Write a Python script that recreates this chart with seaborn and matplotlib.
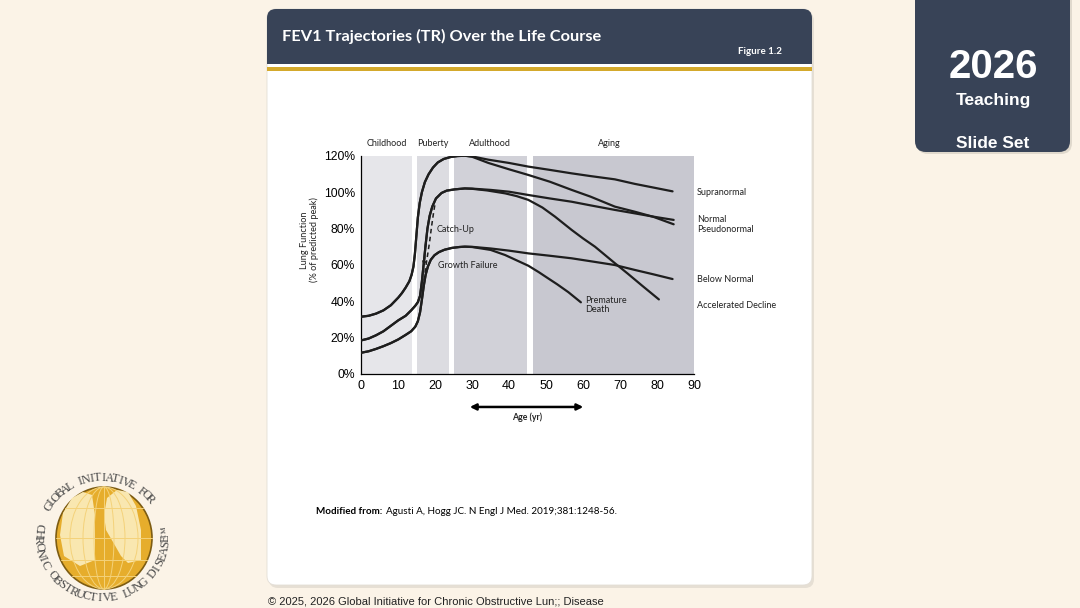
import numpy as np
import pandas as pd
import matplotlib
matplotlib.use("Agg")
import matplotlib.pyplot as plt
import seaborn as sns
from matplotlib.patches import FancyBboxPatch, Rectangle, Ellipse, Polygon

# ---- data ----
phase_names = ["Childhood", "Puberty", "Adulthood", "Aging"]
phase_start = [0, 15.2, 25.0, 46.4]
phase_end = [13.8, 23.7, 44.8, 90]
phase_colors = ["#e6e6ea", "#dcdce1", "#d1d1d8", "#c8c8d0"]

# growth phase (shared by the two trajectories leaving each peak)
top_growth_age = [0, 2, 4, 6, 8, 10, 11, 12, 13, 13.6, 14.1, 14.5, 14.9, 15.3, 15.8, 16.4,
                  17.2, 18.2, 19.4, 20.7, 22.3, 24.2, 26, 28]
top_growth_val = [31.5, 32, 33.2, 35, 37.8, 42, 44.5, 47.5, 51, 54.5, 59, 66, 76, 86, 94, 100,
                  105.5, 109.8, 113.5, 116.3, 118.2, 119.3, 119.8, 120]

mid_growth_age = [0, 2, 4, 6, 8, 10, 12, 13.5, 14.6, 15.3, 15.9, 16.4, 16.9, 17.4, 17.9, 18.5,
                  19.2, 20.2, 21.7, 23.1, 25.3, 28]
mid_growth_val = [18.5, 19.5, 21.3, 23.5, 26.5, 29.5, 32, 35, 37.5, 39.5, 43, 51, 61, 71, 80,
                  87, 92, 96.5, 99.5, 100.8, 101.5, 102]

low_growth_age = [0, 2, 4, 6, 8, 10, 12, 13.5, 14.6, 15.3, 15.9, 16.4, 16.9, 17.4, 18.0, 18.8,
                  19.8, 21, 22.5, 24.5, 26.5, 28]
low_growth_val = [11.7, 12.5, 13.8, 15.3, 17, 19, 21.5, 23.5, 26, 29, 34, 41, 48.5, 54.5, 59,
                  62.8, 65.3, 67, 68.3, 69.3, 69.8, 70]

# decline phase
supra_age = [30, 34.4, 40, 45.2, 51, 56.9, 62, 68.6, 74, 79, 84.2]
supra_val = [119.6, 117.8, 116, 114, 112.2, 110.3, 108.8, 107, 104.5, 102.5, 100.4]

pseudo_age = [30, 34.4, 40, 45.2, 51, 56.9, 62, 68.6, 74, 79, 84.5]
pseudo_val = [119.4, 116, 112.5, 109.4, 105.7, 101.2, 97.5, 92, 89.2, 86.4, 82.3]

normal_age = [30, 35, 40, 45.2, 51, 56.9, 62, 68.6, 74, 79, 84.5]
normal_val = [101.9, 101.2, 100.2, 98.4, 96.5, 94.7, 92.7, 90.2, 88.3, 86.5, 84.7]

accel_age = [30, 34, 38.9, 42, 45.2, 49, 52.4, 56.9, 60, 63.2, 68.6, 72, 76, 80.5]
accel_val = [101.8, 100.9, 99.3, 97.8, 95.7, 91.5, 86.5, 79.2, 74.5, 70, 60.9, 55.3, 48.5, 41]

below_age = [30, 35, 40, 45.2, 51, 56.9, 62, 68.6, 74, 79, 84.2]
below_val = [69.9, 69, 67.8, 66.3, 65, 63.6, 62, 59.9, 57.2, 54.8, 52.2]

death_age = [30, 35, 38.9, 42, 45.2, 48, 50.6, 53, 56, 59.4]
death_val = [69.8, 68.2, 65.4, 62.5, 59.5, 56, 52.5, 49.3, 45, 39.4]

catch_up_age = [16.7, 17.3, 17.9, 18.5, 19.0, 19.5, 19.9]
catch_up_val = [47, 57, 65, 73, 81, 88, 93]
growth_fail_age = [17.45, 17.25, 17.05]
growth_fail_val = [72, 67, 62]

right_labels = ["Supranormal", "Normal", "Pseudonormal", "Below Normal", "Accelerated Decline"]
right_label_val = [100, 85, 79.7, 51.7, 37.4]

age_ticks = [0, 10, 20, 30, 40, 50, 60, 70, 80, 90]
pct_ticks = [0, 20, 40, 60, 80, 100, 120]

sns.set_theme(style="white")
plt.rcParams['font.family'] = ['Lato', 'DejaVu Sans']

navy = "#384357"
ink = "#1e1e1e"

fig = plt.figure(figsize=(10.8, 6.08), dpi=100)
fig.patch.set_facecolor("#fbf3e7")

# ---- slide decoration in pixel coordinates ----
bg = fig.add_axes([0, 0, 1, 1], zorder=0)
bg.set_xlim(0, 1080)
bg.set_ylim(608, 0)
bg.axis("off")

bg.add_patch(FancyBboxPatch((269, 12), 545, 576, boxstyle="round,pad=0,rounding_size=9",
                            fc="#d8d2c8", ec="none", alpha=0.6))
bg.add_patch(FancyBboxPatch((267, 9), 545, 576, boxstyle="round,pad=0,rounding_size=9",
                            fc="white", ec="#e3ded6", lw=0.6))
bg.add_patch(FancyBboxPatch((267, 9), 545, 40, boxstyle="round,pad=0,rounding_size=9",
                            fc=navy, ec="none"))
bg.add_patch(Rectangle((267, 30), 545, 34, fc=navy, ec="none"))
bg.add_patch(Rectangle((267, 67), 545, 4, fc="#d4a92c", ec="none"))
bg.text(282, 36, "FEV1 Trajectories (TR) Over the Life Course", color="white",
        fontsize=11.8, fontweight="bold", va="center")
bg.text(782, 51, "Figure 1.2", color="white", fontsize=7, fontweight="bold",
        ha="right", va="center")

# teaching panel
bg.add_patch(FancyBboxPatch((917, -20), 155, 174, boxstyle="round,pad=0,rounding_size=11",
                            fc="#cfc8bc", ec="none", alpha=0.6))
bg.add_patch(FancyBboxPatch((915, -20), 155, 172, boxstyle="round,pad=0,rounding_size=11",
                            fc=navy, ec="none"))
bg.text(993, 67, "2026", color="white", fontsize=29, fontweight="bold",
        family="Liberation Sans", ha="center", va="center")
bg.text(993, 101, "Teaching", color="white", fontsize=12.5, fontweight="bold",
        family="Liberation Sans", ha="center", va="center")
bg.text(993, 144, "Slide Set", color="white", fontsize=12.5, fontweight="bold",
        family="Liberation Sans", ha="center", va="center")

# source and copyright
src = bg.text(316, 511, "Modified from:", fontsize=7.1, fontweight="bold", color="black",
              va="center")
bg.annotate("Agusti A, Hogg JC. N Engl J Med. 2019;381:1248-56.", xy=(1, 0.5),
            xycoords=src, xytext=(2.5, 0), textcoords="offset points", fontsize=7.1,
            color="black", va="center")
bg.text(268, 602, "\u00a9 2025, 2026 Global Initiative for Chronic Obstructive Lun;; Disease",
        fontsize=8.0, family="Liberation Sans", color="#222222", va="center")

# GOLD logo
cx, cy = 104, 538
bg.add_patch(Ellipse((cx, cy), 96, 102, fc="#e6ad2c", ec="#7d5c12", lw=1.2, zorder=1))
bg.add_patch(Polygon([(64, 556), (60, 535), (63, 513), (72, 498), (83, 492), (92, 495),
                      (95, 515), (95, 560), (80, 566)], closed=True, fc="#f9e7b0", ec="none",
                     zorder=2))
bg.add_patch(Polygon([(104, 515), (107, 498), (117, 490), (128, 492), (136, 506), (141, 530),
                      (141, 560), (128, 563), (121, 556), (113, 542), (106, 530)], closed=True,
                     fc="#f9e7b0", ec="none", zorder=2))
for w in [20, 42, 68]:
    bg.add_patch(Ellipse((cx, cy), w, 102, fc="none", ec="#f4d27a", lw=0.7, zorder=3))
bg.plot([cx, cx], [cy - 51, cy + 51], color="#f4d27a", lw=0.7, zorder=3)
for dy in [-30, 0, 22, 38]:
    hw = 48 * np.sqrt(1 - (dy / 51) ** 2)
    bg.plot([cx - hw, cx + hw], [cy + dy, cy + dy], color="#f4d27a", lw=0.7, zorder=3)

top_txt = "GLOBAL INITIATIVE FOR"
for i, ch in enumerate(top_txt):
    th = np.deg2rad(148 - i * (108 / (len(top_txt) - 1)))
    bg.text(cx - 2 + 62 * np.cos(th), cy - 60 * np.sin(th), ch, rotation=np.rad2deg(th) - 90,
            ha="center", va="center", fontsize=8.8, family="Liberation Serif", color="#4a4a4a")
bot_txt = "CHRONIC OBSTRUCTIVE LUNG DISEASE\u2122"
for i, ch in enumerate(bot_txt):
    th = np.deg2rad(170 + i * (196 / (len(bot_txt) - 1)))
    bg.text(cx - 2 + 64 * np.cos(th), cy - 60 * np.sin(th), ch, rotation=np.rad2deg(th) - 270,
            ha="center", va="center", fontsize=8.8, family="Liberation Serif", color="#4a4a4a")

# ---- chart ----
ax = fig.add_axes([361.3 / 1080, (608 - 374) / 608, 332.7 / 1080, 218.3 / 608], zorder=2)
ax.patch.set_alpha(0)

for name, s, e, c in zip(phase_names, phase_start, phase_end, phase_colors):
    ax.axvspan(s, e, ymin=0, ymax=1, color=c, lw=0, zorder=0)
    ax.text((s + e) / 2 if name != "Aging" else 67, 126.6, name, ha="center", va="center",
            fontsize=6.5, color="#222222", clip_on=False)

trajectories = [
    ("Supranormal", top_growth_age + supra_age, top_growth_val + supra_val),
    ("Pseudonormal", top_growth_age + pseudo_age, top_growth_val + pseudo_val),
    ("Normal", mid_growth_age + normal_age, mid_growth_val + normal_val),
    ("Accelerated Decline", mid_growth_age + accel_age, mid_growth_val + accel_val),
    ("Below Normal", low_growth_age + below_age, low_growth_val + below_val),
    ("Premature Death", low_growth_age + death_age, low_growth_val + death_val),
]
df = pd.DataFrame(
    [(name, a, v) for name, ages, vals in trajectories for a, v in zip(ages, vals)],
    columns=["curve", "age", "pct"],
)
sns.lineplot(data=df, x="age", y="pct", units="curve", estimator=None, sort=False,
             color=ink, lw=1.6, ax=ax, legend=False, zorder=3)

sns.lineplot(x=catch_up_age, y=catch_up_val, sort=False, color=ink, lw=1.1,
             linestyle=(0, (3, 2.2)), ax=ax, zorder=3)
sns.lineplot(x=growth_fail_age, y=growth_fail_val, sort=False, color=ink, lw=1.1,
             linestyle=(0, (2.5, 2)), ax=ax, zorder=3)
ax.annotate("", xy=(16.9, 59.5), xytext=(growth_fail_age[-1], growth_fail_val[-1]),
            arrowprops=dict(arrowstyle="->", lw=0.9, color=ink, mutation_scale=6))

ax.text(20.3, 79.7, "Catch-Up", fontsize=6.5, va="center", color="#222222")
ax.text(20.7, 59.8, "Growth Failure", fontsize=6.5, va="center", color="#222222")
ax.text(60.5, 38, "Premature\nDeath", fontsize=6.5, va="center", color="#222222",
        linespacing=0.95)
for lab, v in zip(right_labels, right_label_val):
    ax.text(90.8, v, lab, fontsize=6.5, va="center", color="#222222", clip_on=False)

ax.set_xlim(0, 90)
ax.set_ylim(0, 120)
ax.set_xticks(age_ticks)
ax.set_yticks(pct_ticks)
ax.set_xticklabels([str(t) for t in age_ticks], family="Liberation Sans", fontsize=9)
ax.set_yticklabels([f"{t}%" for t in pct_ticks], family="Liberation Sans", fontsize=8.7)
ax.tick_params(axis="both", direction="out", length=3, width=0.8, pad=1.5, colors="black")
sns.despine(ax=ax)
for sp in ["left", "bottom"]:
    ax.spines[sp].set_color("black")
    ax.spines[sp].set_linewidth(0.9)
ax.set_xlabel("")
ax.set_ylabel("")

ax.text(-0.155, 0.614, "Lung Function\n(% of predicted peak)", transform=ax.transAxes,
        rotation=90, ha="center", va="center", fontsize=6.6, linespacing=1.0, color="#222222")
ax.annotate("", xy=(60.8, -0.151), xytext=(28.6, -0.151),
            xycoords=("data", "axes fraction"), textcoords=("data", "axes fraction"),
            arrowprops=dict(arrowstyle="<|-|>", lw=1.8, color="black", mutation_scale=9))
ax.text(44.8, -0.197, "Age (yr)", transform=ax.get_xaxis_transform(), ha="center",
        va="center", fontsize=6.3, fontweight="bold")

fig.savefig("out.png", dpi=100, facecolor=fig.get_facecolor())
